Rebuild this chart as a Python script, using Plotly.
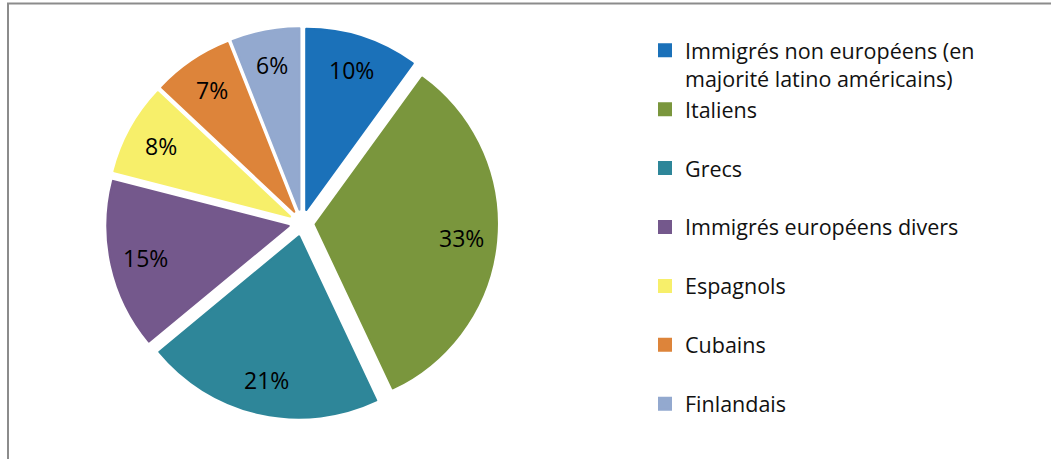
import math
import plotly.graph_objects as go

# parts de la population (en %), dans l'ordre du graphique (sens horaire depuis midi)
labels = [
    "Immigrés non européens (en<br>majorité latino américains)",
    "Italiens",
    "Grecs",
    "Immigrés européens divers",
    "Espagnols",
    "Cubains",
    "Finlandais",
]
values = [10, 33, 21, 15, 8, 7, 6]
colors = ["#1B71B9", "#7A963D", "#2E8699", "#74588C", "#F7EF6A", "#DD843A", "#93A9CF"]

W, H = 1051, 459
# position du camembert en pixels (centre, rayon extérieur avec l'éclatement)
cx, cy, R = 302, 223, 195
pull = 0.075
r = R / (1 + pull)
d = pull * r

# une ligne vide sous chaque libellé d'une ligne pour espacer la légende comme dans Excel
legend_labels = [l if "<br>" in l else l + "<br> " for l in labels]

fig = go.Figure(go.Pie(
    labels=legend_labels,
    values=values,
    sort=False,
    direction="clockwise",
    rotation=0,
    pull=pull,
    marker=dict(colors=colors, line=dict(color=colors, width=2)),
    textinfo="none",
    domain=dict(x=[(cx - R) / W, (cx + R) / W], y=[1 - (cy + R) / H, 1 - (cy - R) / H]),
    hovertemplate="%{label}: %{value}%<extra></extra>",
))

# étiquettes de pourcentage vers l'extérieur de chaque part (comme Excel)
total = sum(values)
cum = 0
for v in values:
    theta = math.radians((cum + v / 2) / total * 360)
    cum += v
    dist = d + 0.81 * r
    px = cx + dist * math.sin(theta)
    py = cy - dist * math.cos(theta)
    fig.add_annotation(
        x=px / W, y=1 - py / H, xref="paper", yref="paper",
        xanchor="center", yanchor="middle",
        text=f"{round(v / total * 100)}%", showarrow=False,
        font=dict(size=23, color="black", family="Open Sans"),
    )

fig.update_layout(
    width=W,
    height=H,
    margin=dict(l=0, r=0, t=0, b=0),
    paper_bgcolor="white",
    font=dict(family="Open Sans", color="black"),
    legend=dict(
        x=0.6137, y=0.935, xanchor="left", yanchor="top",
        valign="top",
        font=dict(size=21.5, color="#111111"),
        bgcolor="rgba(0,0,0,0)",
    ),
    shapes=[dict(
        type="rect", xref="paper", yref="paper",
        x0=8 / W, x1=1.1, y0=-0.1, y1=1 - 3.5 / H,
        line=dict(color="#8C8C8C", width=2),
    )],
)

fig.write_html("out.html", config={"displayModeBar": False},
               post_script="document.body.style.margin='0';")
